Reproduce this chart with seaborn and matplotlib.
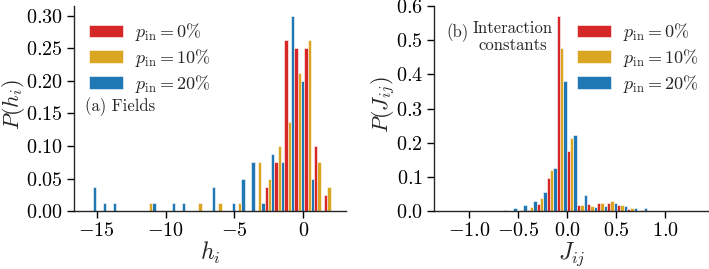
import numpy as np
import pandas as pd
import seaborn as sns
import matplotlib.pyplot as plt

# series labels / colours
labels = [r"$p_{\mathrm{in}} = 0\%$", r"$p_{\mathrm{in}} = 10\%$", r"$p_{\mathrm{in}} = 20\%$"]
colors = ["#d62728", "#daa520", "#1f77b4"]

# (a) fields: 25 bins between -15.77 and 2.23
h_lo, h_hi = -15.77, 2.23
h_p0 = [0, 0, 0, 0, 0, 0, 0, 0, 0, 0, 0, 0, 0, 0, 0, 0, 0, 0,
        .0375, .075, .2625, .25, .25, .1, .025]
h_p10 = [0, 0, 0, 0, 0, 0, .0125, 0, 0, 0, 0, .0125, 0, .0125, 0, .0125, 0,
         .075, .05, .1, .1375, .2125, .2625, .075, .0375]
h_p20 = [.0375, .0125, .0125, 0, 0, 0, .0125, 0, .0125, .0125, 0, 0, .0375, 0,
         .0125, .05, .075, .0125, .0875, .075, .3, .2, .05, 0, 0]

# (b) interaction constants: 25 bins between -1.23 and 1.325
j_lo, j_hi = -1.23, 1.325
j_p0 = [0, 0, 0, 0, 0, 0, 0, .001, .005, .022, .097, .57, .177, .018, .022,
        .024, .024, .017, .008, .002, 0, 0, 0, 0, 0]
j_p10 = [0, 0, 0, 0, 0, 0, .001, .003, .013, .038, .12, .477, .214, .018, .016,
         .024, .03, .017, .01, .003, 0, 0, 0, 0, 0]
j_p20 = [0, 0, 0, .002, .002, .003, .01, .017, .03, .056, .126, .381, .223, .047,
         .013, .015, .024, .015, .01, .009, 0, 0, 0, 0, 0]


def long_form(edges, series):
    centers = (edges[:-1] + edges[1:]) / 2
    parts = [pd.DataFrame({"x": centers, "p": vals, "pin": lab})
             for lab, vals in zip(labels, series)]
    return pd.concat(parts, ignore_index=True)


sns.set_style("ticks")
plt.rcParams["font.family"] = "serif"
plt.rcParams["font.serif"] = ["cmr10"]
plt.rcParams["mathtext.fontset"] = "cm"
plt.rcParams["axes.formatter.use_mathtext"] = True
plt.rcParams["axes.linewidth"] = 1.0

fig = plt.figure(figsize=(7.09, 2.69), dpi=100)
ax_a = fig.add_axes([0.104, 0.2145, 0.3845, 0.7635])
ax_b = fig.add_axes([0.612, 0.2145, 0.389, 0.7635])

panels = [
    (ax_a, np.linspace(h_lo, h_hi, 26), [h_p0, h_p10, h_p20], r"$h_i$", r"$P(h_i)$",
     [-15, -10, -5, 0], np.arange(0, 0.31, 0.05), 0.056, -0.173),
    (ax_b, np.linspace(j_lo, j_hi, 26), [j_p0, j_p10, j_p20], r"$J_{ij}$", r"$P(J_{ij})$",
     [-1.0, -0.5, 0.0, 0.5, 1.0], np.arange(0, 0.61, 0.1), 0.519, -0.135),
]

for ax, edges, series, xl, yl, xt, yt, legx, ylx in panels:
    df = long_form(edges, series)
    sns.histplot(data=df, x="x", weights="p", hue="pin", hue_order=labels,
                 palette=dict(zip(labels, colors)), bins=edges.tolist(),
                 multiple="dodge", shrink=1, alpha=1,
                 edgecolor="white", linewidth=0.4, ax=ax)
    ax.set_xticks(xt)
    ax.set_yticks(yt)
    ax.set_xlabel(xl, fontsize=17, labelpad=0)
    ax.set_ylabel(yl, fontsize=16)
    ax.yaxis.set_label_coords(ylx, 0.52)
    ax.tick_params(direction="out", length=5, width=1, labelsize=14.5, pad=3, colors="black")
    sns.despine(ax=ax)
    sns.move_legend(ax, "upper left", bbox_to_anchor=(legx, 0.925), frameon=False,
                    title=None, fontsize=13, borderpad=0, borderaxespad=0,
                    labelspacing=0.2, handletextpad=0.65, handlelength=1.9)

ax_a.text(0.041, 0.508, "(a) Fields", transform=ax_a.transAxes, fontsize=12,
          ha="left", va="center")
ax_b.text(0.046, 0.868, "(b)", transform=ax_b.transAxes, fontsize=12,
          ha="left", va="center")
ax_b.text(0.285, 0.849, "Interaction\nconstants", transform=ax_b.transAxes, fontsize=12,
          ha="center", va="center", multialignment="center")

fig.savefig("out.png", dpi=100)
